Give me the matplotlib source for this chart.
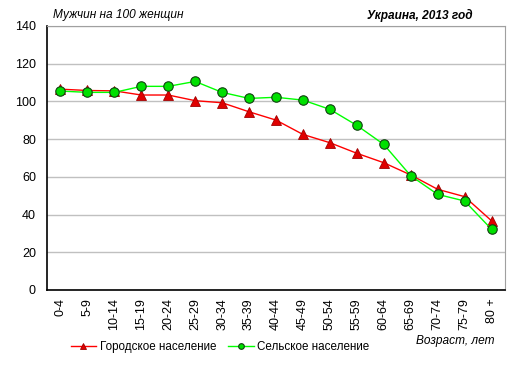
import matplotlib.pyplot as plt

ages = ['0-4', '5-9', '10-14', '15-19', '20-24', '25-29', '30-34', '35-39', '40-44',
        '45-49', '50-54', '55-59', '60-64', '65-69', '70-74', '75-79', '80 +']
urban = [106.5, 105.8, 105.6, 103.4, 103.4, 100.4, 99.3, 94.5, 90.1,
         82.5, 78.1, 72.5, 67.5, 61.0, 53.4, 49.5, 36.7]
rural = [105.5, 104.8, 104.8, 108.0, 108.0, 110.6, 104.8, 101.6, 102.2,
         100.7, 95.8, 87.3, 77.2, 60.6, 50.7, 47.2, 32.2]

plt.rcParams['font.family'] = ['Liberation Sans', 'DejaVu Sans']
plt.rcParams['font.size'] = 9

fig = plt.figure(figsize=(5.2, 3.74), dpi=100)
ax = fig.add_axes([47 / 520, 1 - 290 / 374, 458 / 520, 264 / 374])

x = range(len(ages))
ax.plot(x, urban, color='#ff0000', lw=1, marker='^', ms=7.5,
        mfc='#e00000', mec='#a00000', mew=0.6, label='Городское население', zorder=3)
ax.plot(x, rural, color='#00ff00', lw=1, marker='o', ms=6.8,
        mfc='#00e000', mec='#104010', mew=0.8, label='Сельское население', zorder=4)

ax.set_xlim(-0.5, len(ages) - 0.5)
ax.set_ylim(0, 140)
ax.set_yticks(range(0, 141, 20))
ax.set_xticks(list(x))
ax.set_xticklabels(ages, rotation=90)
ax.tick_params(axis='x', length=0, pad=6)
ax.tick_params(axis='y', length=0, pad=8)
ax.grid(axis='y', color='#c0c0c0', lw=1)
ax.set_axisbelow(True)
for s in ['top', 'right']:
    ax.spines[s].set_color('#a0a0a0')
for s in ['left', 'bottom']:
    ax.spines[s].set_color('black')
    ax.spines[s].set_linewidth(1.2)

fig.text(53 / 520, 1 - 15 / 374, 'Мужчин на 100 женщин', style='italic', va='center',
         fontsize=8.6)
fig.text(473 / 520, 1 - 15 / 374, 'Украина, 2013 год', style='italic',
         weight='bold', ha='right', va='center', fontsize=8.6)
fig.text(495 / 520, 1 - 341 / 374, 'Возраст, лет', style='italic', ha='right',
         va='center', fontsize=8.6)

ax.legend(loc='center left', bbox_to_anchor=(60 / 520, 1 - 347 / 374),
          bbox_transform=fig.transFigure, ncol=2, frameon=False, fontsize=8.4,
          handlelength=2.2, handletextpad=0.3, columnspacing=1.0, markerscale=0.6)

fig.savefig('out.png', dpi=100)
